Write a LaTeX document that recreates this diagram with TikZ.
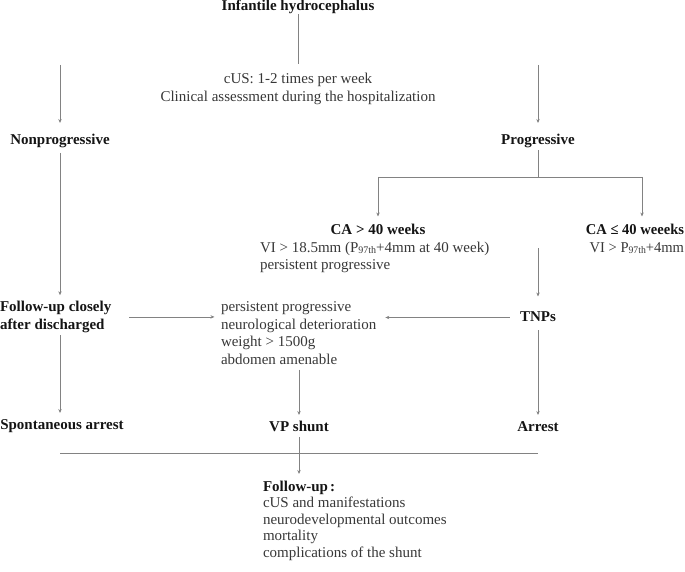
\documentclass[tikz,border=0pt]{standalone}
\usepackage{fontspec}
\setmainfont{Liberation Serif}
\usetikzlibrary{arrows.meta}
\definecolor{linec}{RGB}{130,130,130}
\definecolor{txtc}{RGB}{55,55,55}
\definecolor{btxt}{RGB}{20,20,20}
\newcommand{\myfs}{\fontsize{15}{17.6}\selectfont}
\newcommand{\topstrut}{\rule{0pt}{10.5pt}}
\newcommand{\botstrut}{\rule[-3.5pt]{0pt}{3.5pt}}
\newcommand{\subsc}[1]{\raisebox{-1pt}{\fontsize{10}{10}\selectfont #1}}
\begin{document}
\begin{tikzpicture}[x=1pt,y=-1pt,
  plain/.style={inner sep=0pt, outer sep=0pt, font=\myfs, text=txtc, text height=10.5pt, text depth=3.5pt},
  bnode/.style={plain, font=\myfs\bfseries, text=btxt},
  multi/.style={inner sep=0pt, outer sep=0pt, align=left, font=\myfs, text=txtc},
  ln/.style={draw=linec, line width=0.7pt},
  arr/.style={ln, -{Stealth[length=4pt,width=3.4pt]}}]
\useasboundingbox (0,0) rectangle (685,572);

% nodes
\node[bnode, anchor=base] (top) at (298,11) {Infantile hydrocephalus};
\node[multi, align=center, anchor=north] (cus) at (298,73.5)
  {\topstrut cUS: 1-2 times per week\\Clinical assessment during the hospitalization};
\node[bnode, anchor=base] (nonprog) at (60,145) {Nonprogressive};
\node[bnode, anchor=base] (prog) at (538,145) {Progressive};
\node[bnode, anchor=base] (ca40) at (378,234) {CA > 40 weeks};
\node[multi, anchor=north west] (vi) at (260,241.5)
  {\topstrut VI > 18.5mm (P\subsc{97th}+4mm at 40 week)\\persistent progressive\botstrut};
\node[bnode, anchor=base east] (cale) at (684,234) {\scalebox{0.97}[1]{CA ≤ 40 weeeks}};
\node[plain, anchor=base east] (vip) at (684,252) {\scalebox{0.97}[1]{VI > P\subsc{97th}+4mm}};
\node[bnode, anchor=base] (tnps) at (538,321) {TNPs};
\node[multi, anchor=north west] (crit) at (221,301.2)
  {\topstrut persistent progressive\\neurological deterioration\\weight > 1500g\\abdomen amenable\botstrut};
\node[multi, font=\fontsize{15}{17.4}\selectfont\bfseries, text=btxt, anchor=north west] (fu) at (0,301.2)
  {\topstrut Follow-up closely\\after discharged\botstrut};
\node[bnode, anchor=base] (spont) at (62,429) {Spontaneous arrest};
\node[bnode, anchor=base] (vp) at (299,431.5) {VP shunt};
\node[bnode, anchor=base] (arrest) at (538,431) {Arrest};
\node[multi, font=\fontsize{15}{16.6}\selectfont, anchor=north west] (fu2) at (263,480.5)
  {\topstrut\textbf{\color{btxt}Follow-up\hspace{2pt}:}\\cUS and manifestations\\neurodevelopmental outcomes\\mortality\\complications of the shunt\botstrut};

% free ends
\coordinate (c1) at (298,64);
\coordinate (cL) at (60,65);
\coordinate (cR) at (538,65);
\coordinate (br) at (538,177);
\coordinate (brL) at (378,177);
\coordinate (brR) at (642,177);
\coordinate (c2) at (538,248);
\coordinate (bl) at (60,453);
\coordinate (brr) at (538,453);

% connectors
\draw[ln] (top.south) -- (c1);
\draw[arr, shorten >=11.5pt] (cL) -- (nonprog.north);
\draw[arr, shorten >=11.5pt] (cR) -- (prog.north);
\draw[ln, shorten <=2pt] (prog.south) -- (br);
\draw[ln] (brL) -- (brR);
\draw[arr, shorten >=7pt] (brL) -- (ca40.north);
\draw[arr, shorten >=7pt] (brR) -- (brR |- cale.north);
\draw[arr, shorten >=14pt] (c2) -- (tnps.north);
\draw[arr, shorten <=10.5pt, shorten >=9pt] (tnps.west) -- (tnps.west -| crit.east);
\draw[arr, shorten <=18pt, shorten >=6.5pt] (fu.east) -- (fu.east -| crit.west);
\draw[arr, shorten <=4.5pt, shorten >=6pt] (nonprog.south) -- (nonprog.south |- fu.north);
\draw[arr, shorten <=2.5pt, shorten >=5.5pt] (nonprog |- fu.south) -- (nonprog |- spont.north);
\draw[arr, shorten <=1.5pt, shorten >=6pt] (crit.south -| vp) -- (vp.north);
\draw[arr, shorten <=5.5pt, shorten >=5.5pt] (tnps.south) -- (arrest.north);
\draw[ln] (bl) -- (brr);
\draw[arr, shorten <=2pt, shorten >=6.5pt] (vp.south) -- (vp.south |- fu2.north);
\end{tikzpicture}
\end{document}
